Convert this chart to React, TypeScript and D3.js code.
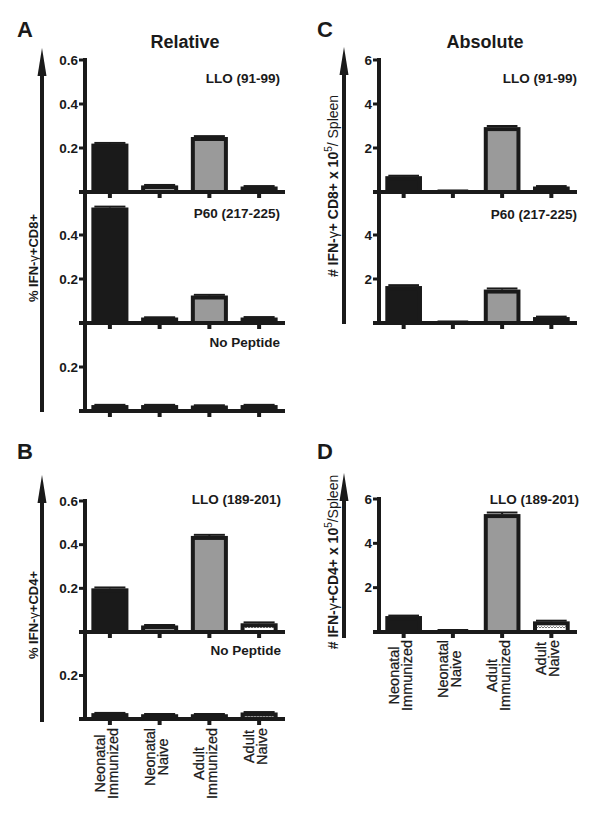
import React from "react";
import * as d3 from "d3";

// ---------- data ----------
const categories = ["Neonatal Immunized", "Neonatal Naive", "Adult Immunized", "Adult Naive"];
const categoryLines = [
  ["Neonatal", "Immunized"],
  ["Neonatal", "Naive"],
  ["Adult", "Immunized"],
  ["Adult", "Naive"],
];

const lloCD8Rel = [0.22, 0.03, 0.25, 0.025];
const lloCD8RelErr = [0.003, 0.002, 0.004, 0.002];
const p60CD8Rel = [0.525, 0.025, 0.125, 0.025];
const p60CD8RelErr = [0.004, 0.001, 0.003, 0.002];
const noPepCD8Rel = [0.027, 0.027, 0.025, 0.027];
const noPepCD8RelErr = [0.001, 0.001, 0.001, 0.001];

const lloCD4Rel = [0.2, 0.03, 0.44, 0.04];
const lloCD4RelErr = [0.004, 0.002, 0.005, 0.004];
const noPepCD4Rel = [0.027, 0.022, 0.022, 0.03];
const noPepCD4RelErr = [0.001, 0.001, 0.001, 0.002];

const lloCD8Abs = [0.72, 0.06, 2.95, 0.25];
const lloCD8AbsErr = [0.02, 0.01, 0.05, 0.02];
const p60CD8Abs = [1.68, 0.06, 1.52, 0.27];
const p60CD8AbsErr = [0.04, 0.01, 0.05, 0.02];

const lloCD4Abs = [0.72, 0.08, 5.32, 0.48];
const lloCD4AbsErr = [0.02, 0.01, 0.07, 0.03];

const relTicksTop = [0.2, 0.4, 0.6];
const relTicksMid = [0.2, 0.4];
const relTicksLow = [0.2];
const absTicksTop = [2, 4, 6];
const absTicksMid = [2, 4];

const subLabels = ["LLO (91-99)", "P60 (217-225)", "No Peptide", "LLO (189-201)"];

// ---------- styles ----------
const FONT = "'Liberation Sans', Arial, Helvetica, sans-serif";
const INK = "#1a1a1a";
const barFills = [INK, "url(#naive)", "#9a9a9a", "url(#naive)"];

type Sub = {
  values: number[];
  errs: number[];
  max: number;
  ticks: number[];
  top: number;
  bottom: number;
  label: string;
  labelY: number;
};

type Panel = {
  letter: string;
  letterX: number;
  letterY: number;
  xRange: [number, number];
  subs: Sub[];
  arrowX: number;
  arrowTop: number;
  arrowBottom: number;
  yLabel: React.ReactNode;
  yLabelX: number;
  yLabelY: number;
  yLabelSize: number;
  title?: string;
  titleX?: number;
  titleY?: number;
  fmt: (v: number) => string;
  labelEndX: number;
  xLabelsTop?: number;
};

const fmtRel = d3.format(".1f");
const fmtAbs = d3.format("d");

const panels: Panel[] = [
  {
    letter: "A", letterX: 17, letterY: 37,
    xRange: [85, 284],
    arrowX: 42, arrowTop: 48, arrowBottom: 412,
    yLabel: (
      <>
        <tspan>% IFN-</tspan>
        <tspan fontWeight="normal">γ</tspan>
        <tspan>+CD8+</tspan>
      </>
    ),
    yLabelX: 38, yLabelY: 258, yLabelSize: 13,
    title: "Relative", titleX: 185, titleY: 48,
    fmt: fmtRel, labelEndX: 280,
    subs: [
      { values: lloCD8Rel, errs: lloCD8RelErr, max: 0.6, ticks: relTicksTop, top: 60, bottom: 192, label: subLabels[0], labelY: 83 },
      { values: p60CD8Rel, errs: p60CD8RelErr, max: 0.6, ticks: relTicksMid, top: 191, bottom: 323, label: subLabels[1], labelY: 218 },
      { values: noPepCD8Rel, errs: noPepCD8RelErr, max: 0.4, ticks: relTicksLow, top: 323, bottom: 411, label: subLabels[2], labelY: 347 },
    ],
  },
  {
    letter: "B", letterX: 17, letterY: 459,
    xRange: [85, 284],
    arrowX: 42, arrowTop: 475, arrowBottom: 722,
    yLabel: (
      <>
        <tspan>% IFN-</tspan>
        <tspan fontWeight="normal">γ</tspan>
        <tspan>+CD4+</tspan>
      </>
    ),
    yLabelX: 38, yLabelY: 615, yLabelSize: 13,
    fmt: fmtRel, labelEndX: 281,
    xLabelsTop: 728,
    subs: [
      { values: lloCD4Rel, errs: lloCD4RelErr, max: 0.6, ticks: relTicksTop, top: 501, bottom: 632, label: subLabels[3], labelY: 504 },
      { values: noPepCD4Rel, errs: noPepCD4RelErr, max: 0.4, ticks: relTicksLow, top: 632, bottom: 719, label: subLabels[2], labelY: 655 },
    ],
  },
  {
    letter: "C", letterX: 317, letterY: 37,
    xRange: [379, 576],
    arrowX: 344, arrowTop: 47, arrowBottom: 324,
    yLabel: (
      <>
        <tspan># IFN-</tspan>
        <tspan fontWeight="normal">γ</tspan>
        <tspan>+ CD8+ x 10</tspan>
        <tspan fontWeight="normal" fontSize="10" dy="-6">5</tspan>
        <tspan fontWeight="normal" dy="6">/ Spleen</tspan>
      </>
    ),
    yLabelX: 338, yLabelY: 186, yLabelSize: 14,
    title: "Absolute", titleX: 485, titleY: 48,
    fmt: fmtAbs, labelEndX: 577,
    subs: [
      { values: lloCD8Abs, errs: lloCD8AbsErr, max: 6, ticks: absTicksTop, top: 60, bottom: 192, label: subLabels[0], labelY: 83 },
      { values: p60CD8Abs, errs: p60CD8AbsErr, max: 6, ticks: absTicksMid, top: 191, bottom: 323, label: subLabels[1], labelY: 219 },
    ],
  },
  {
    letter: "D", letterX: 317, letterY: 459,
    xRange: [379, 576],
    arrowX: 344, arrowTop: 473, arrowBottom: 638,
    yLabel: (
      <>
        <tspan># IFN-</tspan>
        <tspan fontWeight="normal">γ</tspan>
        <tspan>+CD4+ x 10</tspan>
        <tspan fontWeight="normal" fontSize="10" dy="-6">5</tspan>
        <tspan fontWeight="normal" dy="6">/Spleen</tspan>
      </>
    ),
    yLabelX: 338, yLabelY: 562, yLabelSize: 14,
    fmt: fmtAbs, labelEndX: 579,
    xLabelsTop: 640,
    subs: [
      { values: lloCD4Abs, errs: lloCD4AbsErr, max: 6, ticks: absTicksTop, top: 499, bottom: 632, label: subLabels[3], labelY: 504 },
    ],
  },
];

let measureCtx: CanvasRenderingContext2D | null = null;
function textWidth(s: string, font: string): number {
  try {
    if (!measureCtx) measureCtx = document.createElement("canvas").getContext("2d");
    if (measureCtx) {
      measureCtx.font = font;
      return measureCtx.measureText(s).width;
    }
  } catch (e) {
    /* ignore */
  }
  return s.length * 7.5;
}

function PanelView({ p }: { p: Panel }) {
  const x = d3
    .scaleBand<string>()
    .domain(categories)
    .range(p.xRange)
    .paddingInner(0.255)
    .paddingOuter(0.128);
  const bw = x.bandwidth();
  const sw = 4;
  const axisX = p.xRange[0];
  const firstTop = p.subs[0].top;
  const lastBottom = p.subs[p.subs.length - 1].bottom;
  const headH = 28;
  const headW = 9;
  const xlSize = 14.5;
  const xlFont = `${xlSize}px ${FONT}`;

  return (
    <g>
      <text x={p.letterX} y={p.letterY} fontSize={22} fontWeight="bold" fill={INK}>
        {p.letter}
      </text>
      {p.title && (
        <text x={p.titleX} y={p.titleY} fontSize={18} fontWeight="bold" textAnchor="middle" fill={INK}>
          {p.title}
        </text>
      )}
      {/* arrow */}
      <line x1={p.arrowX} x2={p.arrowX} y1={p.arrowTop + headH - 2} y2={p.arrowBottom} stroke={INK} strokeWidth={4} />
      <path
        d={`M${p.arrowX},${p.arrowTop} L${p.arrowX + headW / 2},${p.arrowTop + headH} L${p.arrowX - headW / 2},${p.arrowTop + headH} Z`}
        fill={INK}
      />
      <text
        transform={`translate(${p.yLabelX},${p.yLabelY}) rotate(-90)`}
        textAnchor="middle"
        fontSize={p.yLabelSize}
        fontWeight="bold"
        fill={INK}
      >
        {p.yLabel}
      </text>

      {p.subs.map((s, si) => {
        const y = d3.scaleLinear().domain([0, s.max]).range([s.bottom, s.top]);
        return (
          <g key={si}>
            {s.values.map((v, i) => {
              const c = categories[i];
              const x0 = x(c)!;
              const yv = y(v);
              const ye = y(v + s.errs[i]);
              const cx = x0 + bw / 2;
              return (
                <g key={c}>
                  <line x1={cx} x2={cx} y1={yv} y2={ye} stroke={INK} strokeWidth={2} />
                  <line x1={x0 + 3} x2={x0 + bw - 3} y1={ye} y2={ye} stroke={INK} strokeWidth={2} />
                  <rect
                    x={x0 + sw / 2}
                    y={yv + sw / 2}
                    width={bw - sw}
                    height={Math.max(0, s.bottom - yv - sw / 2)}
                    fill={barFills[i]}
                    stroke={INK}
                    strokeWidth={sw}
                  />
                </g>
              );
            })}
            {/* x axis */}
            <line x1={axisX - 6} x2={p.xRange[1] + 1} y1={s.bottom} y2={s.bottom} stroke={INK} strokeWidth={4} />
            {categories.map((c) => {
              const cx = x(c)! + bw / 2;
              return <line key={c} x1={cx} x2={cx} y1={s.bottom} y2={s.bottom + 6} stroke={INK} strokeWidth={4} />;
            })}
            {/* y ticks */}
            {s.ticks.map((t) => (
              <g key={t}>
                <line x1={axisX - 6} x2={axisX} y1={y(t)} y2={y(t)} stroke={INK} strokeWidth={3} />
                <text
                  x={axisX - 7}
                  y={y(t)}
                  dy="0.35em"
                  textAnchor="end"
                  fontSize={13.5}
                  fontWeight="bold"
                  fill={INK}
                >
                  {p.fmt(t)}
                </text>
              </g>
            ))}
            <text x={p.labelEndX} y={s.labelY} textAnchor="end" fontSize={13.5} fontWeight="bold" fill={INK}>
              {s.label}
            </text>
          </g>
        );
      })}
      {/* y axis */}
      <line x1={axisX} x2={axisX} y1={firstTop - 2} y2={lastBottom + 2} stroke={INK} strokeWidth={4} />

      {p.xLabelsTop !== undefined &&
        categories.map((c, i) => {
          const lines = categoryLines[i];
          const maxW = Math.max(...lines.map((l) => textWidth(l, xlFont)));
          const cx = x(c)! + bw / 2;
          return (
            <g key={c} transform={`translate(${cx},${p.xLabelsTop! + maxW / 2}) rotate(-90)`}>
              {lines.map((l, li) => (
                <text key={li} x={0} y={li === 0 ? -5 : 8} textAnchor="middle" fontSize={xlSize} fill={INK} stroke={INK} strokeWidth={0.25}>
                  {l}
                </text>
              ))}
            </g>
          );
        })}
    </g>
  );
}

export default function App() {
  return (
    <svg
      width={600}
      height={816}
      viewBox="0 0 600 816"
      style={{ position: "absolute", left: 0, top: 0, display: "block", background: "#fff" }}
      fontFamily={FONT}
    >
      <defs>
        <pattern id="naive" patternUnits="userSpaceOnUse" width={6} height={5}>
          <rect width={6} height={5} fill="#fff" />
          <path d="M0,3 L1.5,1.5 L3,3 L4.5,1.5 L6,3" stroke="#666" strokeWidth={0.9} fill="none" />
        </pattern>
      </defs>
      <rect width={600} height={816} fill="#fff" />
      {panels.map((p) => (
        <PanelView key={p.letter} p={p} />
      ))}
    </svg>
  );
}
